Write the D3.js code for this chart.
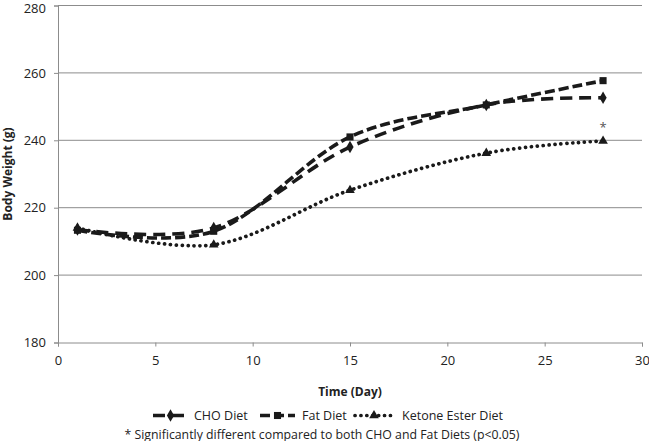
<!DOCTYPE html>
<html><head><meta charset="utf-8">
<script src="https://cdn.jsdelivr.net/npm/d3@7"></script>
<style>body{margin:0;background:#fff}svg{display:block}text{font-family:"Open Sans",sans-serif}</style>
</head><body><svg id="c" width="649" height="441"></svg>
<script>
const days = [1, 8, 15, 22, 28];
const choDiet = [213.5, 214, 238, 250.5, 252.6];
const fatDiet = [213.3, 213, 241, 250.5, 257.7];
const ketoneDiet = [214, 209, 225.2, 236.2, 239.8];
const xTicks = [0, 5, 10, 15, 20, 25, 30];
const yTicks = [180, 200, 220, 240, 260, 280];
const seriesNames = ["CHO Diet", "Fat Diet", "Ketone Ester Diet"];
const footnote = "* Significantly different compared to both CHO and Fat Diets (p<0.05)";

const svg = d3.select("#c");
const x = d3.scaleLinear().domain([0, 30]).range([58, 642]);
const y = d3.scaleLinear().domain([180, 280]).range([342.5, 5.5]);
const ink = "#1a1a1a", grid = "#8c8c8c";

// gridlines
svg.append("g").selectAll("line").data(yTicks.slice(1)).join("line")
  .attr("x1", x(0)).attr("x2", x(30)).attr("y1", d => y(d)).attr("y2", d => y(d))
  .attr("stroke", grid).attr("stroke-width", 1);

// y axis
const ya = svg.append("g").attr("transform", `translate(${x(0)},0)`)
  .call(d3.axisLeft(y).tickValues(yTicks).tickSize(4).tickPadding(8));
ya.select(".domain").attr("stroke", grid);
ya.selectAll(".tick line").attr("stroke", grid);
ya.selectAll("text").attr("font-size", 13).attr("fill", "#222").attr("font-family", "Open Sans")
  .attr("dy", d => d === 280 ? "0.55em" : "0.32em");

// x axis
const xa = svg.append("g").attr("transform", `translate(0,${y(180)})`)
  .call(d3.axisBottom(x).tickValues(xTicks).tickSize(4).tickPadding(9));
xa.select(".domain").attr("stroke", grid);
xa.selectAll(".tick line").attr("stroke", grid);
xa.selectAll("text").attr("font-size", 13).attr("fill", "#222").attr("font-family", "Open Sans");

// titles
svg.append("text").attr("x", 350).attr("y", 395.5).attr("text-anchor", "middle")
  .attr("font-size", 12).attr("font-weight", "bold").attr("fill", "#222").text("Time (Day)");
svg.append("text").attr("transform", "translate(12,174) rotate(-90)").attr("text-anchor", "middle")
  .attr("font-size", 12).attr("font-weight", "bold").attr("fill", "#222").text("Body Weight (g)");

const styles = [
  {vals: choDiet, dash: "12,7", cap: "butt", w: 3.6, marker: d3.symbolDiamond, msize: 45},
  {vals: fatDiet, dash: "10,4", cap: "butt", w: 3.6, marker: d3.symbolSquare, msize: 50},
  {vals: ketoneDiet, dash: "0.1,5.8", cap: "round", w: 3.7, marker: d3.symbolTriangle, msize: 40}
];
const line = d3.line().curve(d3.curveCardinal.tension(0)).x(d => x(d[0])).y(d => y(d[1]));

styles.forEach(s => {
  const pts = days.map((d, i) => [d, s.vals[i]]);
  svg.append("path").attr("d", line(pts)).attr("fill", "none").attr("stroke", ink)
    .attr("stroke-width", s.w).attr("stroke-dasharray", s.dash).attr("stroke-linecap", s.cap);
  svg.append("g").selectAll("path").data(pts).join("path")
    .attr("transform", d => `translate(${x(d[0])},${y(d[1])})`)
    .attr("d", d3.symbol().type(s.marker).size(s.msize)).attr("fill", ink);
});

// asterisk
svg.append("text").attr("x", x(28)).attr("y", y(ketoneDiet[4]) - 9).attr("text-anchor", "middle")
  .attr("font-size", 13).attr("fill", "#555").text("*");

// legend
const legItems = [
  {sx: 153, len: 35, tx: 194},
  {sx: 260, len: 35, tx: 302},
  {sx: 355, len: 38, tx: 402}
];
const ly = 415.5;
legItems.forEach((it, i) => {
  const s = styles[i];
  svg.append("line").attr("x1", it.sx).attr("x2", it.sx + it.len).attr("y1", ly).attr("y2", ly)
    .attr("stroke", ink).attr("stroke-width", s.w).attr("stroke-dasharray", s.dash)
    .attr("stroke-linecap", s.cap);
  svg.append("path").attr("transform", `translate(${it.sx + it.len / 2},${ly})`)
    .attr("d", d3.symbol().type(s.marker).size(s.msize)).attr("fill", ink);
  svg.append("text").attr("x", it.tx).attr("y", ly + 4.5).attr("font-size", 12.5).attr("fill", "#222")
    .text(seriesNames[i]);
});
svg.append("text").attr("x", 322).attr("y", 438.5).attr("text-anchor", "middle")
  .attr("font-size", 12.3).attr("fill", "#222").text(footnote);
</script></body></html>
